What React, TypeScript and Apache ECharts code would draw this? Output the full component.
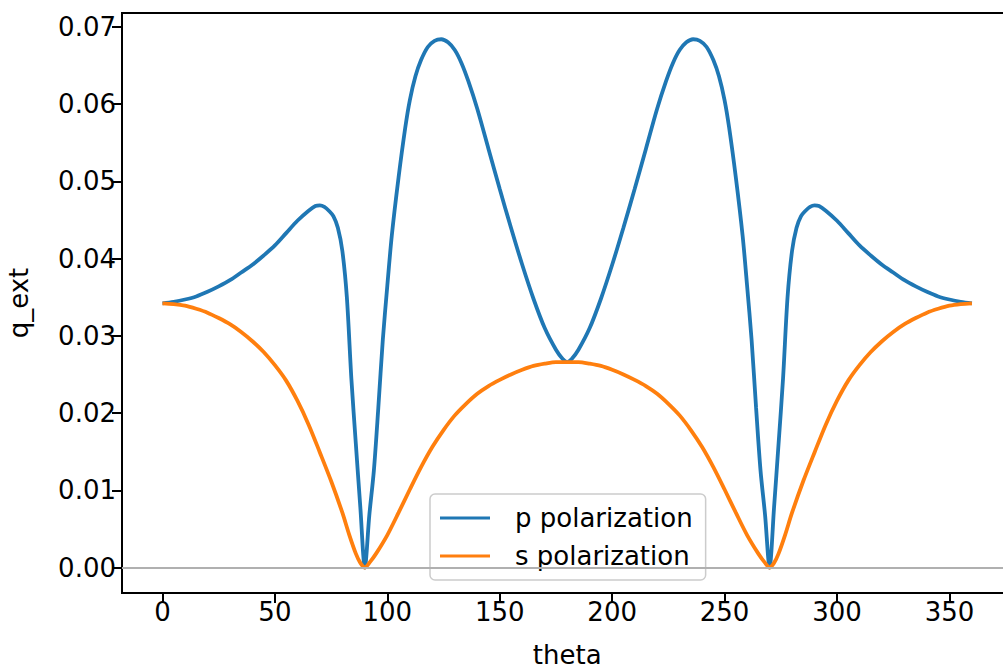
import React, { useEffect, useRef } from "react";
import * as echarts from "echarts";

const pTheta = [0, 5, 10, 15, 20, 25, 30, 35, 40, 45, 50, 55, 60, 65, 68, 70, 72, 74, 76, 78, 80, 82, 84, 86, 88, 90, 92, 94, 96, 98, 100, 102, 105, 108, 110, 112.5, 115, 118, 121, 124, 127, 130, 133, 136, 140, 145, 150, 155, 160, 165, 170, 175, 178, 180,
  182, 185, 190, 195, 200, 205, 210, 215, 220, 224, 227, 230, 233, 236, 239, 242, 245, 247.5, 250, 252, 255, 258, 260, 262, 264, 266, 268, 270, 272, 274, 276, 278, 280, 282, 284, 286, 288, 290, 292, 295, 300, 305, 310, 315, 320, 325, 330, 335, 340, 345, 350, 355, 360];
const pValue = [0.0342, 0.0344, 0.0347, 0.0351, 0.0357, 0.0364, 0.0372, 0.0382, 0.0392, 0.0404, 0.0417, 0.0433, 0.0449, 0.0462, 0.0468, 0.0469, 0.0467, 0.0462, 0.0455, 0.044, 0.041, 0.035, 0.0245, 0.016, 0.0078, 0.0, 0.0068, 0.0125, 0.0207, 0.0295, 0.0365, 0.043, 0.0505, 0.057, 0.0605, 0.0636, 0.0657, 0.0674, 0.0682, 0.0684, 0.068, 0.067, 0.0653, 0.063, 0.0594, 0.0542, 0.049, 0.044, 0.0392, 0.0348, 0.031, 0.0282, 0.027, 0.0266,
  0.027, 0.0282, 0.031, 0.0348, 0.0392, 0.044, 0.049, 0.0542, 0.0594, 0.063, 0.0653, 0.067, 0.068, 0.0684, 0.0682, 0.0674, 0.0657, 0.0636, 0.0605, 0.057, 0.0505, 0.043, 0.0365, 0.0295, 0.0207, 0.0125, 0.0068, 0.0, 0.0078, 0.016, 0.0245, 0.035, 0.041, 0.044, 0.0455, 0.0462, 0.0467, 0.0469, 0.0468, 0.0462, 0.0449, 0.0433, 0.0417, 0.0404, 0.0392, 0.0382, 0.0372, 0.0364, 0.0357, 0.0351, 0.0347, 0.0344, 0.0342];

const sTheta = [0, 5, 10, 15, 20, 25, 30, 35, 40, 45, 50, 55, 60, 65, 70, 75, 80, 83, 86, 88, 90, 92, 95, 100, 105, 110, 115, 120, 125, 130, 135, 140, 145, 150, 155, 160, 165, 170, 175, 180,
  185, 190, 195, 200, 205, 210, 215, 220, 225, 230, 235, 240, 245, 250, 255, 260, 265, 268, 270, 272, 274, 277, 280, 285, 290, 295, 300, 305, 310, 315, 320, 325, 330, 335, 340, 345, 350, 355, 360];
const sValue = [0.0342, 0.0341, 0.0339, 0.0335, 0.033, 0.0323, 0.0315, 0.0305, 0.0293, 0.0279, 0.0262, 0.0242, 0.0216, 0.0185, 0.0149, 0.0112, 0.0071, 0.0043, 0.0018, 0.0006, 0.0, 0.0006, 0.0018, 0.0042, 0.0071, 0.0101, 0.013, 0.0156, 0.0178, 0.0197, 0.0212, 0.0225, 0.0235, 0.0243, 0.025, 0.0256, 0.0261, 0.0264, 0.0266, 0.0266,
  0.0266, 0.0264, 0.0261, 0.0256, 0.025, 0.0243, 0.0235, 0.0225, 0.0212, 0.0197, 0.0178, 0.0156, 0.013, 0.0101, 0.0071, 0.0042, 0.0018, 0.0006, 0.0, 0.0006, 0.0018, 0.0043, 0.0071, 0.0112, 0.0149, 0.0185, 0.0216, 0.0242, 0.0262, 0.0279, 0.0293, 0.0305, 0.0315, 0.0323, 0.033, 0.0335, 0.0339, 0.0341, 0.0342];

const xTicks = [0, 50, 100, 150, 200, 250, 300, 350];
const yTicks = [0, 0.01, 0.02, 0.03, 0.04, 0.05, 0.06, 0.07];
const seriesNames = ["p polarization", "s polarization"];

const FONT = "DejaVu Sans";

export default function App() {
  const ref = useRef<HTMLDivElement>(null);
  useEffect(() => {
    if (!ref.current) return;
    const chart = echarts.init(ref.current, undefined, { renderer: "svg" });
    const pData = pTheta.map((t, i) => [t, pValue[i]]);
    const sData = sTheta.map((t, i) => [t, sValue[i]]);
    chart.setOption({
      animation: false,
      backgroundColor: "#ffffff",
      grid: {
        left: 122,
        top: 13,
        right: 1030 - 1012.4,
        bottom: 78,
        show: true,
        borderColor: "#000",
        borderWidth: 2,
        backgroundColor: "transparent",
        containLabel: false,
        outerBoundsMode: "none",
      },
      xAxis: {
        type: "value",
        min: -18,
        max: 378,
        name: "theta",
        nameLocation: "middle",
        nameGap: 49,
        nameTextStyle: { fontFamily: FONT, fontSize: 26, color: "#000" },
        axisLine: { show: true, onZero: false, lineStyle: { color: "#000", width: 2 } },
        axisTick: { show: true, length: 10, customValues: xTicks, lineStyle: { color: "#000", width: 2 } },
        axisLabel: { customValues: xTicks, fontFamily: FONT, fontSize: 26, color: "#000", margin: 6 },
        splitLine: { show: false },
      },
      yAxis: {
        type: "value",
        min: -0.0033,
        max: 0.0718,
        name: "q_ext",
        nameLocation: "middle",
        nameGap: 90,
        nameRotate: 90,
        nameTextStyle: { fontFamily: FONT, fontSize: 26, color: "#000" },
        axisLine: { show: true, onZero: false, lineStyle: { color: "#000", width: 2 } },
        axisTick: { show: true, length: 10, customValues: yTicks, lineStyle: { color: "#000", width: 2 } },
        axisLabel: {
          customValues: yTicks,
          fontFamily: FONT,
          fontSize: 26,
          color: "#000",
          margin: 6,
          formatter: (v: number) => v.toFixed(2),
        },
        splitLine: { show: false },
      },
      legend: {
        left: 430,
        top: 494,
        orient: "vertical",
        data: seriesNames,
        itemWidth: 50,
        itemHeight: 3,
        itemGap: 8,
        icon: "rect",
        padding: [9, 13, 9, 10],
        borderColor: "#cccccc",
        borderWidth: 1.5,
        borderRadius: 5,
        backgroundColor: "rgba(255,255,255,0.8)",
        textStyle: { fontFamily: FONT, fontSize: 26, color: "#000", lineHeight: 30, padding: [0, 0, 0, 20] },
      },
      series: [
        {
          name: "zero",
          type: "line",
          data: [],
          z: 1,
          silent: true,
          markLine: {
            silent: true,
            symbol: "none",
            label: { show: false },
            lineStyle: { color: "#b0b0b0", width: 2, type: "solid" },
            data: [{ yAxis: 0 }],
          },
        },
        {
          name: seriesNames[0],
          type: "line",
          data: pData,
          showSymbol: false,
          symbol: "none",
          smooth: 0.3,
          z: 3,
          color: "#1f77b4",
          lineStyle: { color: "#1f77b4", width: 3.8 },
        },
        {
          name: seriesNames[1],
          type: "line",
          data: sData,
          showSymbol: false,
          symbol: "none",
          smooth: 0.3,
          z: 4,
          color: "#ff7f0e",
          lineStyle: { color: "#ff7f0e", width: 3.8 },
        },
      ],
    });
    return () => chart.dispose();
  }, []);
  return (
    <div style={{ position: "absolute", left: 0, top: 0, width: 1003, height: 671, overflow: "hidden", background: "#fff" }}>
      <div ref={ref} style={{ width: 1030, height: 671 }} />
    </div>
  );
}
